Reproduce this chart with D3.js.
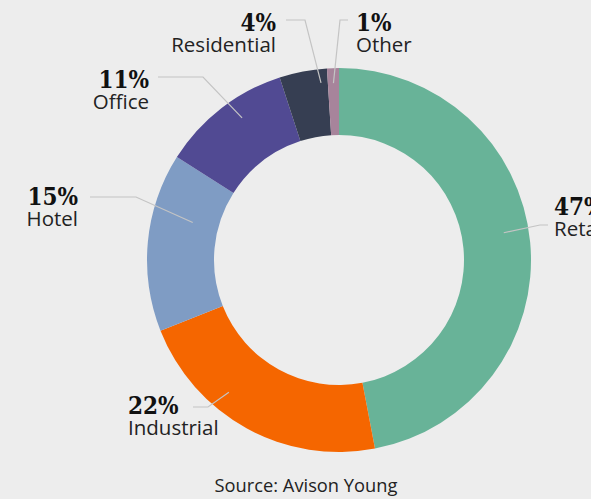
<!DOCTYPE html>
<html>
<head>
<meta charset="utf-8">
<script src="https://cdn.jsdelivr.net/npm/d3@7"></script>
<style>
  html, body { margin: 0; padding: 0; background: #ededed; }
  #graf { width: 591px; height: 499px; }
  .pct { font-family: 'DejaVu Serif Condensed', 'DejaVu Serif', serif; font-weight: bold; font-size: 24px; fill: #111; }
  .cat { font-family: 'Open Sans', sans-serif; font-size: 20.5px; fill: #222; }
  .fuente { font-family: 'Open Sans', sans-serif; font-size: 18.3px; fill: #222; }
</style>
</head>
<body>
<div id="graf"></div>
<script>
const sectores = ['Retail', 'Industrial', 'Hotel', 'Office', 'Residential', 'Other']
const valores = [47, 22, 15, 11, 4, 1]
const colores = ['#68b398', '#f56600', '#7f9cc4', '#514a93', '#363e52', '#a7849b']

// ubicacion de etiquetas: texto, inicio de la linea, codo, y punta (radio + giro en grados)
const etiquetas = {
  Retail:      { x: 554, y: 215, anchor: 'start', lx: 548, ly: 225, cx: 540, r: 167, giro: -4 },
  Industrial:  { x: 128, y: 414, anchor: 'start', lx: 193, ly: 407, cx: 208, r: 172, giro: 11 },
  Hotel:       { x: 78,  y: 205, anchor: 'end',   lx: 90,  ly: 197, cx: 136, r: 151, giro: 9 },
  Office:      { x: 149, y: 88,  anchor: 'end',   lx: 158, ly: 77,  cx: 203, r: 172, giro: 3.5 },
  Residential: { x: 276, y: 31,  anchor: 'end',   lx: 286, ly: 20,  cx: 305, r: 178, giro: 5 },
  Other:       { x: 356, y: 31,  anchor: 'start', lx: 348, ly: 20,  cx: 340, r: 177, giro: 0 },
}

const anchoTotal = 591
const altoTotal = 499
const centro = { x: 339, y: 260 }
const rExt = 192
const rInt = 125

const svg = d3.select('#graf')
  .append('svg')
  .attr('width', anchoTotal)
  .attr('height', altoTotal)

svg.append('rect')
  .attr('width', anchoTotal)
  .attr('height', altoTotal)
  .attr('fill', '#ededed')

const datos = sectores.map((s, i) => ({ sector: s, valor: valores[i] }))

const color = d3.scaleOrdinal()
  .domain(sectores)
  .range(colores)

const pie = d3.pie()
  .value(d => d.valor)
  .sort(null)

const arco = d3.arc()
  .innerRadius(rInt)
  .outerRadius(rExt)

const g = svg.append('g')
  .attr('transform', `translate(${centro.x}, ${centro.y})`)

const porciones = pie(datos)

g.selectAll('path')
  .data(porciones)
  .enter()
  .append('path')
    .attr('d', arco)
    .attr('fill', d => color(d.data.sector))

// punta de la linea guia dentro de la porcion
function punta(d) {
  const e = etiquetas[d.data.sector]
  const ang = (d.startAngle + d.endAngle) / 2 + e.giro * Math.PI / 180
  return [centro.x + e.r * Math.sin(ang), centro.y - e.r * Math.cos(ang)]
}

// lineas guia
svg.append('g')
  .selectAll('polyline')
  .data(porciones)
  .enter()
  .append('polyline')
    .attr('points', d => {
      const e = etiquetas[d.data.sector]
      return [[e.lx, e.ly], [e.cx, e.ly], punta(d)].join(' ')
    })
    .attr('fill', 'none')
    .attr('stroke', '#c4c4c4')
    .attr('stroke-width', 1.2)

const textos = svg.append('g')
  .selectAll('g')
  .data(porciones)
  .enter()
  .append('g')

textos.append('text')
  .attr('class', 'pct')
  .attr('x', d => etiquetas[d.data.sector].x)
  .attr('y', d => etiquetas[d.data.sector].y)
  .attr('text-anchor', d => etiquetas[d.data.sector].anchor)
  .text(d => `${d.data.valor}%`)

textos.append('text')
  .attr('class', 'cat')
  .attr('x', d => etiquetas[d.data.sector].x)
  .attr('y', d => etiquetas[d.data.sector].y + 21)
  .attr('text-anchor', d => etiquetas[d.data.sector].anchor)
  .text(d => d.data.sector)

svg.append('text')
  .attr('class', 'fuente')
  .attr('x', 306)
  .attr('y', 492)
  .attr('text-anchor', 'middle')
  .text('Source: Avison Young')
</script>
</body>
</html>
